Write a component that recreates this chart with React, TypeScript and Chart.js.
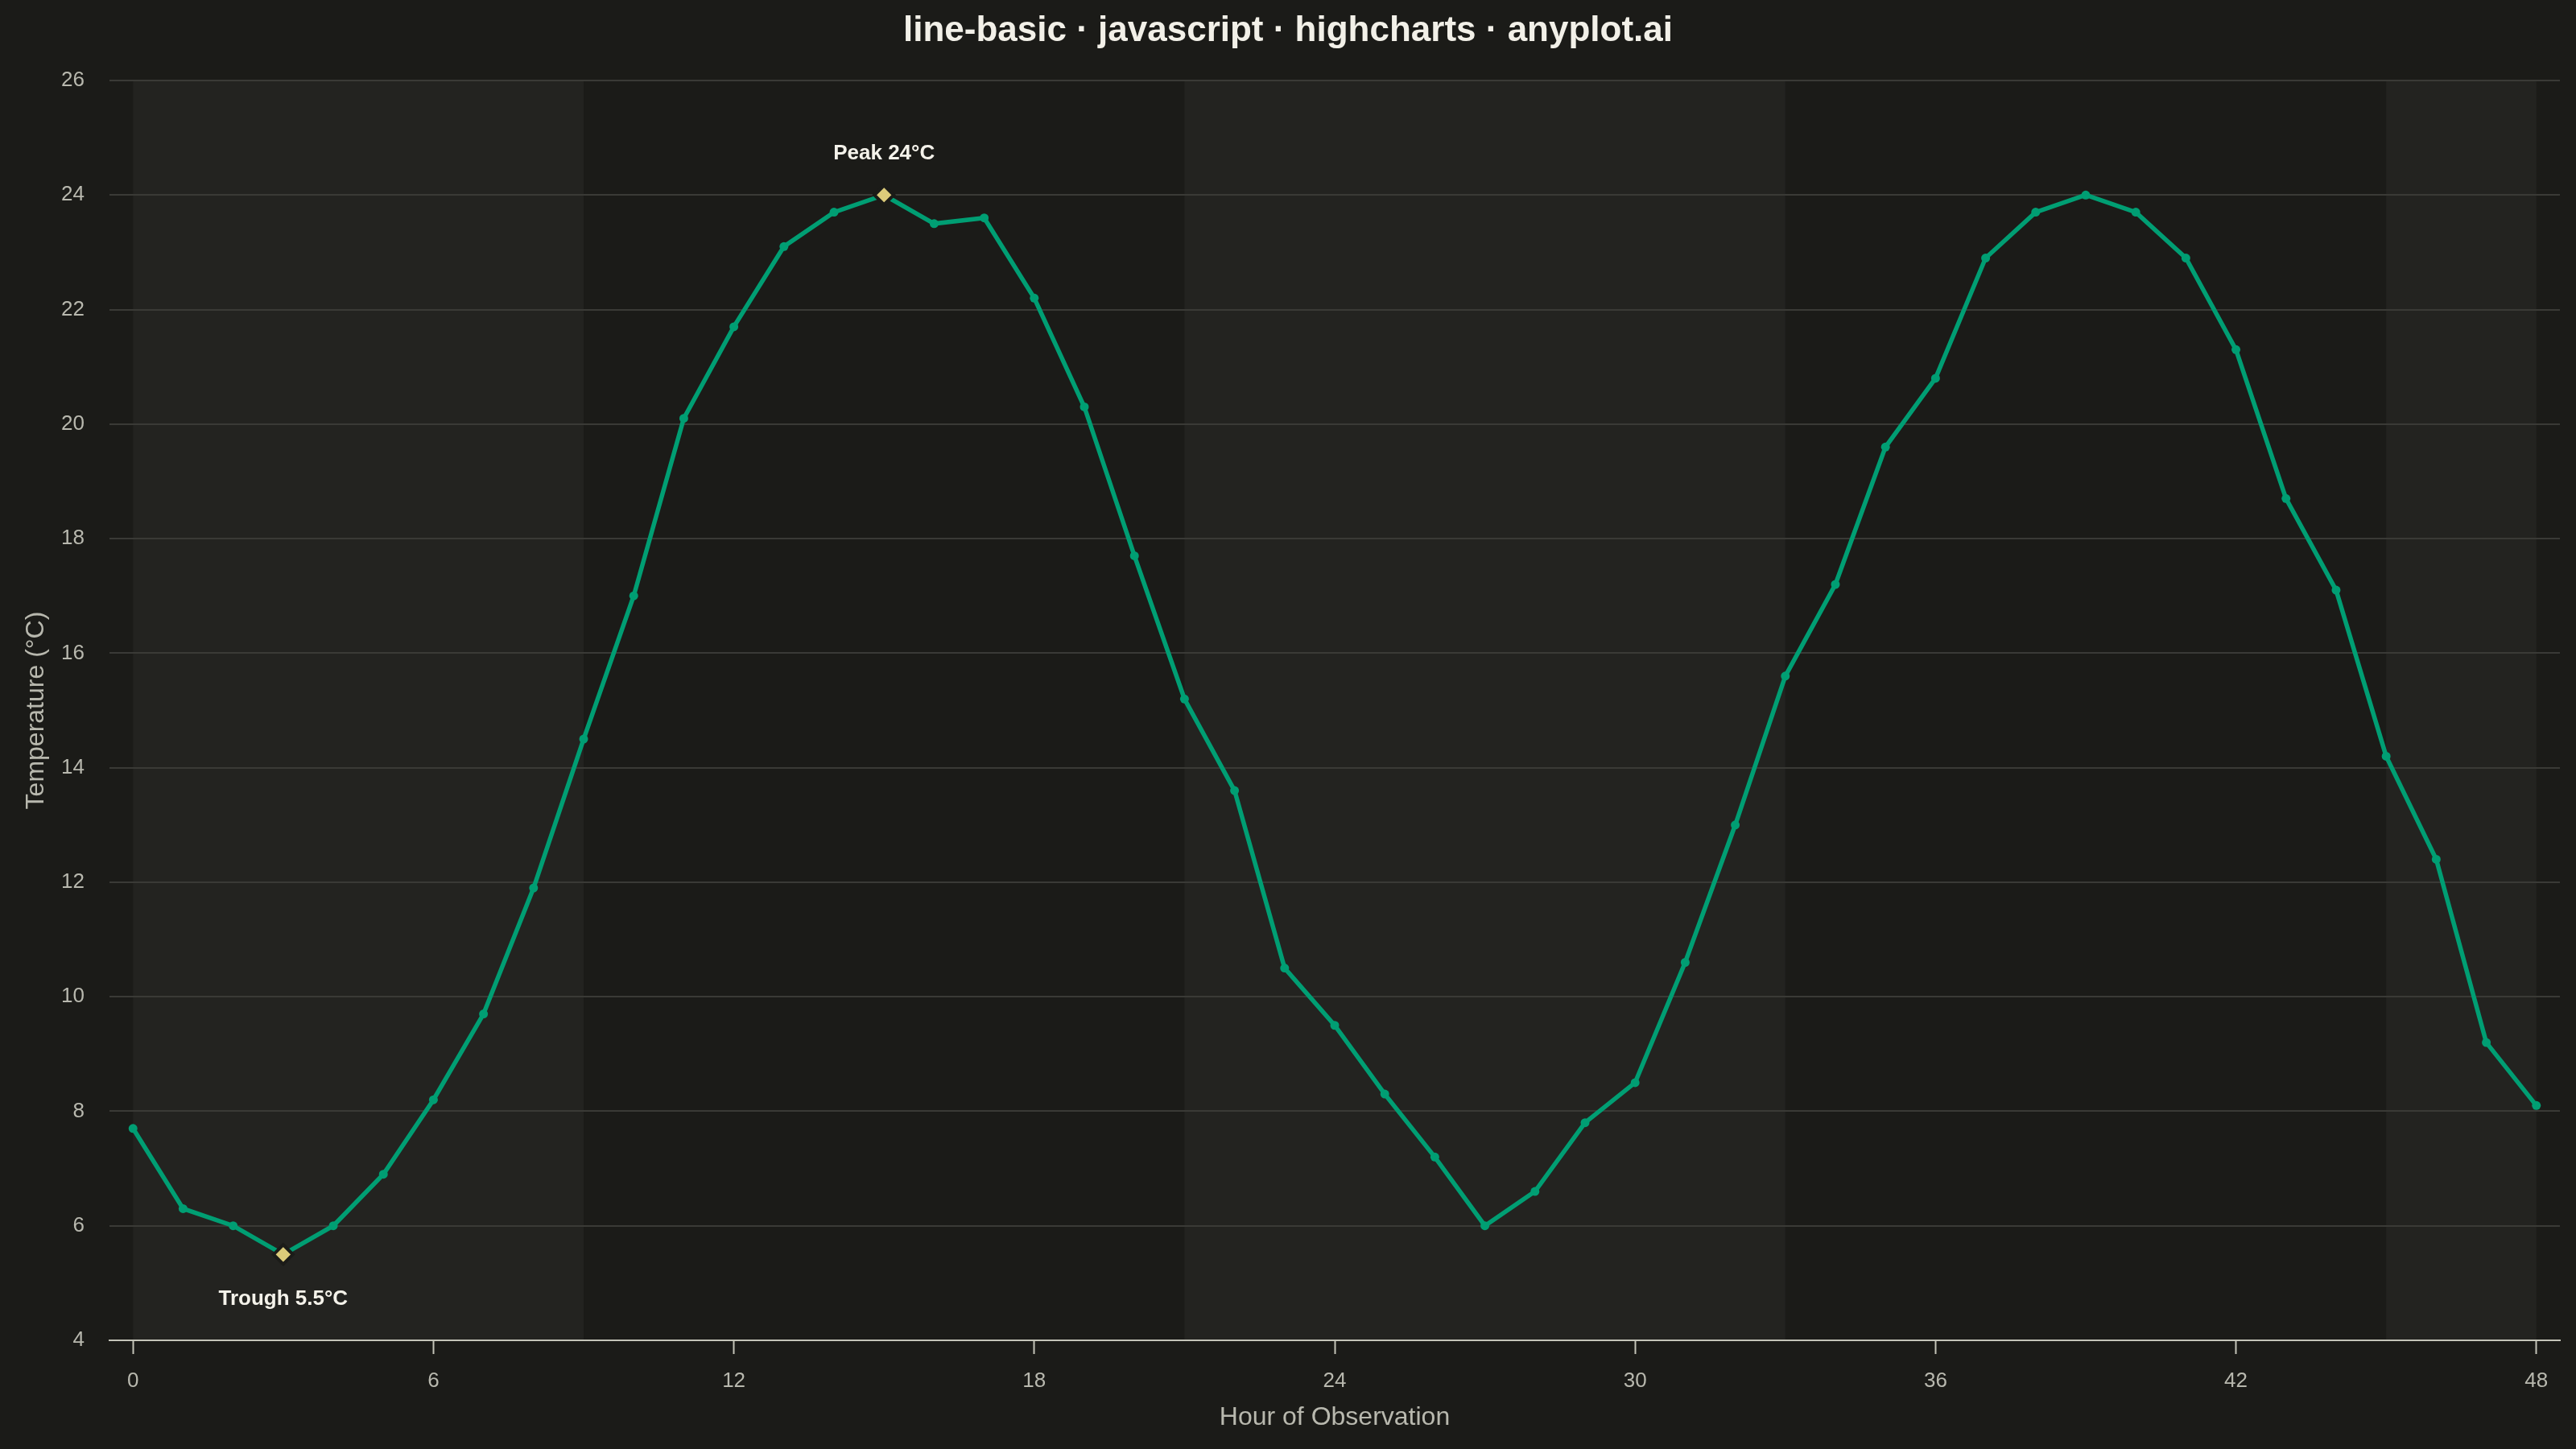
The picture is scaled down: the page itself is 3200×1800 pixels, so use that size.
import React, { useEffect, useRef } from "react";
import { Chart, registerables } from "chart.js";

Chart.register(...registerables);

const TITLE = "line-basic · javascript · highcharts · anyplot.ai";
const X_TITLE = "Hour of Observation";
const Y_TITLE = "Temperature (°C)";

const hours = [
  0, 1, 2, 3, 4, 5, 6, 7, 8, 9, 10, 11, 12, 13, 14, 15, 16, 17, 18, 19, 20, 21, 22, 23, 24,
  25, 26, 27, 28, 29, 30, 31, 32, 33, 34, 35, 36, 37, 38, 39, 40, 41, 42, 43, 44, 45, 46, 47, 48,
];
const temperatures = [
  7.7, 6.3, 6.0, 5.5, 6.0, 6.9, 8.2, 9.7, 11.9, 14.5, 17.0, 20.1, 21.7, 23.1, 23.7, 24.0, 23.5,
  23.6, 22.2, 20.3, 17.7, 15.2, 13.6, 10.5, 9.5, 8.3, 7.2, 6.0, 6.6, 7.8, 8.5, 10.6, 13.0, 15.6,
  17.2, 19.6, 20.8, 22.9, 23.7, 24.0, 23.7, 22.9, 21.3, 18.7, 17.1, 14.2, 12.4, 9.2, 8.1,
];
const xTicks = [0, 6, 12, 18, 24, 30, 36, 42, 48];
const yTicks = [4, 6, 8, 10, 12, 14, 16, 18, 20, 22, 24, 26];
const bandStarts = [0, 21, 45];
const bandEnds = [9, 33, 48];
const highlightHours = [15, 3];
const highlightLabels = ["Peak 24°C", "Trough 5.5°C"];
const highlightPlacement = ["above", "below"];

const BG = "#1b1b18";
const BAND = "#232320";
const GRID = "#3a3a36";
const AXIS = "#c4c4b8";
const TEXT = "#b8b8ae";
const TITLE_COLOR = "#f2f0e8";
const LINE = "#009e73";
const MARK = "#dccb7a";
const FONT = "'Liberation Sans', Arial, sans-serif";

export default function App() {
  const ref = useRef<HTMLCanvasElement | null>(null);

  useEffect(() => {
    document.body.style.margin = "0";
    document.body.style.background = BG;
    const canvas = ref.current;
    if (!canvas) return;

    const bandsPlugin = {
      id: "bands",
      beforeDraw(chart: any) {
        const { ctx, chartArea, scales } = chart;
        ctx.save();
        ctx.fillStyle = BG;
        ctx.fillRect(0, 0, chart.width, chart.height);
        ctx.fillStyle = BAND;
        for (let i = 0; i < bandStarts.length; i++) {
          const x0 = scales.x.getPixelForValue(bandStarts[i]);
          const x1 = scales.x.getPixelForValue(bandEnds[i]);
          ctx.fillRect(x0, chartArea.top, x1 - x0, chartArea.bottom - chartArea.top);
        }
        ctx.restore();
      },
    };

    const labelsPlugin = {
      id: "pointLabels",
      afterDatasetsDraw(chart: any) {
        const { ctx, scales } = chart;
        ctx.save();
        ctx.font = `bold 26px ${FONT}`;
        ctx.fillStyle = "#f4f2ea";
        ctx.textAlign = "center";
        ctx.textBaseline = "middle";
        for (let i = 0; i < highlightHours.length; i++) {
          const idx = hours.indexOf(highlightHours[i]);
          const px = scales.x.getPixelForValue(hours[idx]);
          const py = scales.y.getPixelForValue(temperatures[idx]);
          const dy = highlightPlacement[i] === "above" ? -51 : 56;
          ctx.fillText(highlightLabels[i], px, py + dy);
        }
        ctx.restore();
      },
    };

    const isHighlight = (ctx: any) => highlightHours.includes(hours[ctx.dataIndex]);

    const chart = new Chart(canvas, {
      type: "line",
      data: {
        datasets: [
          {
            label: "Temperature",
            data: hours.map((h, i) => ({ x: h, y: temperatures[i] })),
            borderColor: LINE,
            borderWidth: 5.5,
            tension: 0,
            fill: false,
            pointStyle: (ctx: any) => (isHighlight(ctx) ? "rectRot" : "circle"),
            pointRadius: (ctx: any) => (isHighlight(ctx) ? 12 : 5.5),
            pointBackgroundColor: (ctx: any) => (isHighlight(ctx) ? MARK : LINE),
            pointBorderColor: (ctx: any) => (isHighlight(ctx) ? BG : LINE),
            pointBorderWidth: (ctx: any) => (isHighlight(ctx) ? 4 : 0),
          } as any,
        ],
      },
      options: {
        animation: false,
        responsive: false,
        devicePixelRatio: 1,
        layout: { padding: { left: 20, right: 20, top: 0, bottom: 0 } },
        plugins: {
          legend: { display: false },
          tooltip: { enabled: false },
          title: {
            display: true,
            text: TITLE,
            color: TITLE_COLOR,
            font: { family: FONT, size: 44, weight: "bold", lineHeight: 1.2 },
            padding: { top: 12, bottom: 35.2 },
          },
        },
        scales: {
          x: {
            type: "linear",
            min: -0.47,
            max: 48.47,
            afterBuildTicks: (scale: any) => {
              scale.ticks = xTicks.map((v) => ({ value: v }));
            },
            afterFit: (scale: any) => {
              scale.height = 135;
            },
            grid: {
              drawOnChartArea: false,
              drawTicks: true,
              tickLength: 17,
              tickColor: AXIS,
              tickWidth: 2,
            },
            border: { display: true, color: AXIS, width: 2 },
            ticks: {
              color: TEXT,
              font: { family: FONT, size: 26 },
              padding: 18,
              maxRotation: 0,
              autoSkip: false,
            },
            title: {
              display: true,
              text: X_TITLE,
              color: TEXT,
              font: { family: FONT, size: 32, lineHeight: 1.2 },
              padding: { top: 0, bottom: 20 },
            },
          },
          y: {
            type: "linear",
            min: 4,
            max: 26,
            afterBuildTicks: (scale: any) => {
              scale.ticks = yTicks.map((v) => ({ value: v }));
            },
            afterFit: (scale: any) => {
              scale.width = 116;
            },
            grid: {
              color: GRID,
              lineWidth: 2,
              drawTicks: false,
            },
            border: { display: false },
            ticks: {
              color: TEXT,
              font: { family: FONT, size: 26 },
              padding: 31,
            },
            title: {
              display: true,
              text: Y_TITLE,
              color: TEXT,
              font: { family: FONT, size: 32, lineHeight: 1.2 },
              padding: { top: 6, bottom: 0 },
            },
          },
        },
      } as any,
      plugins: [bandsPlugin, labelsPlugin],
    });

    return () => chart.destroy();
  }, []);

  return (
    <div style={{ width: 3200, height: 1800, background: BG }}>
      <canvas ref={ref} width={3200} height={1800} style={{ display: "block" }} />
    </div>
  );
}
